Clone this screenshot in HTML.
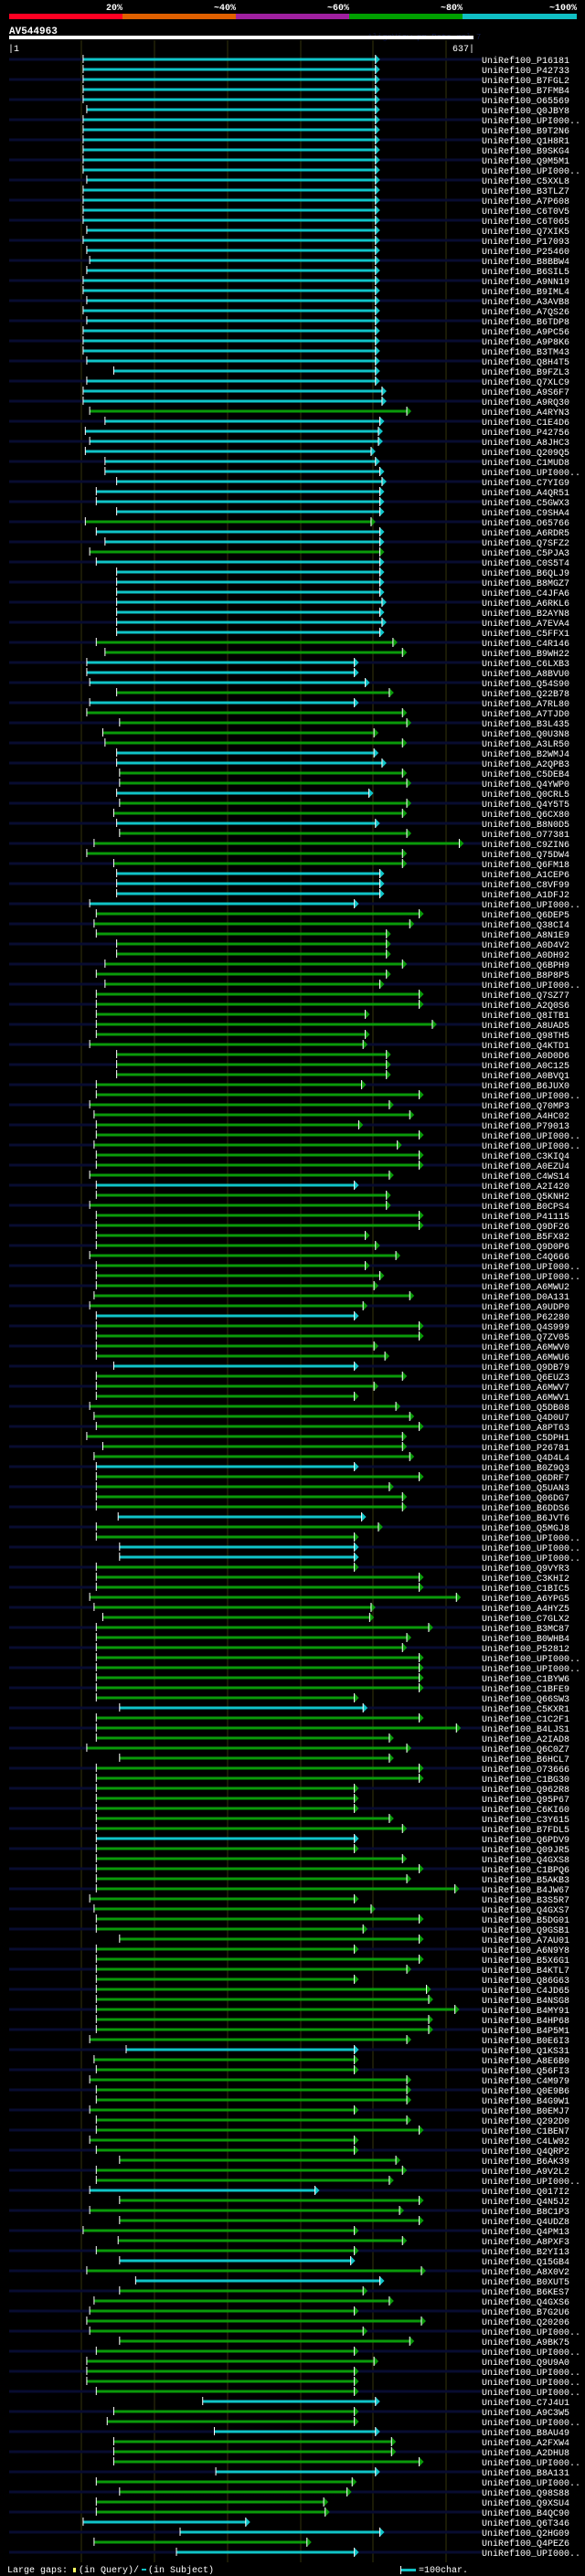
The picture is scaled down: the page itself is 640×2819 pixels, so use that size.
<!DOCTYPE html>
<html><head><meta charset="utf-8">
<style>
html,body{margin:0;padding:0;background:#000;}
svg{display:block;}
text{font-family:"Liberation Mono","DejaVu Sans Mono",monospace;}
</style></head>
<body>
<svg id="chart" width="640" height="2819" viewBox="0 0 640 2819" xmlns="http://www.w3.org/2000/svg">
<rect x="0" y="0" width="640" height="2819" fill="#000"/>
<g>
<rect x="10" y="15" width="124" height="6" fill="#ff0022"/>
<rect x="134" y="15" width="124" height="6" fill="#e06000"/>
<rect x="258" y="15" width="124" height="6" fill="#a020a0"/>
<rect x="382" y="15" width="124" height="6" fill="#00a000"/>
<rect x="506" y="15" width="125" height="6" fill="#10c0c4"/>
<text x="134" y="11" fill="#fff" font-size="10" font-weight="bold" text-anchor="end">20%</text>
<text x="258" y="11" fill="#fff" font-size="10" font-weight="bold" text-anchor="end">~40%</text>
<text x="382" y="11" fill="#fff" font-size="10" font-weight="bold" text-anchor="end">~60%</text>
<text x="506" y="11" fill="#fff" font-size="10" font-weight="bold" text-anchor="end">~80%</text>
<text x="631" y="11" fill="#fff" font-size="10" font-weight="bold" text-anchor="end">~100%</text>
</g>
<text x="10" y="37" fill="#fff" font-size="11" font-weight="bold">AV544963</text>
<text x="402" y="43" fill="#101a48" font-size="9">AlignView.pm Beta rel.7</text>
<rect x="10" y="39" width="508" height="4" fill="#fff"/>
<text x="9" y="56" fill="#fff" font-size="10">|1</text>
<text x="519" y="56" fill="#fff" font-size="10" text-anchor="end">637|</text>
<g id="grid"></g>
<g id="rows"></g>
<g>
<text x="8" y="2815" fill="#fff" font-size="10">Large gaps:</text>
<rect x="80" y="2810" width="3" height="5" fill="#ffff60"/>
<text x="86" y="2815" fill="#fff" font-size="10">(in Query)/</text>
<rect x="155" y="2811" width="5" height="2" fill="#10c0c4"/>
<text x="162" y="2815" fill="#fff" font-size="10">(in Subject)</text>
<rect x="438" y="2808" width="1" height="9" fill="#fff"/>
<rect x="439" y="2811" width="16" height="3" fill="#10c0c4"/>
<text x="458" y="2815" fill="#fff" font-size="10">=100char.</text>
</g>
</svg>
<script>
const names = ["P16181","P42733","B7FGL2","B7FMB4","O65569","Q0JBY8","UPI000..","B9T2N6","Q1H8R1","B9SKG4","Q9M5M1","UPI000..","C5XXL8","B3TLZ7","A7P608","C6T0V5","C6T065","Q7XIK5","P17093","P25460","B8BBW4","B6SIL5","A9NN19","B9IML4","A3AVB8","A7QS26","B6TDP8","A9PC56","A9P8K6","B3TM43",
"Q8H4T5","B9FZL3","Q7XLC9","A9S6F7","A9RQ30","A4RYN3","C1E4D6","P42756","A8JHC3","Q209Q5","C1MUD8","UPI000..","C7YIG9","A4QR51","C5GWX3","C9SHA4","O65766","A6RDR5","Q7SFZ2","C5PJA3","C0S5T4","B6QLJ9","B8MGZ7","C4JFA6","A6RKL6","B2AYN8","A7EVA4","C5FFX1","C4R146","B9WH22",
"C6LXB3","A8BVU0","Q54S90","Q22B78","A7RL80","A7TJD0","B3L435","Q0U3N8","A3LR50","B2WMJ4","A2QPB3","C5DEB4","Q4YWP0","Q0CRL5","Q4Y5T5","Q6CX80","B8N0D5","O77381","C9ZIN6","Q75DW4","Q6FM18","A1CEP6","C8VF99","A1DFJ2","UPI000..","Q6DEP5","Q38CI4","A8N1E9","A0D4V2","A0DH92",
"Q6BPH9","B8P8P5","UPI000..","Q7SZ77","A2Q0S6","Q8ITB1","A8UAD5","Q98TH5","Q4KTD1","A0D0D6","A0C125","A0BVQ1","B6JUX0","UPI000..","Q70MP3","A4HC02","P79013","UPI000..","UPI000..","C3KIQ4","A0EZU4","C4WS14","A2I420","Q5KNH2","B0CPS4","P41115","Q9DF26","B5FX82","Q9D0P6","C4Q666",
"UPI000..","UPI000..","A6MWU2","D0A131","A9UDP0","P62280","Q4S999","Q7ZV05","A6MWV0","A6MWU6","Q9DB79","Q6EUZ3","A6MWV7","A6MWV1","Q5DB08","Q4D0U7","A8PT63","C5DPH1","P26781","Q4D4L4","B0Z9Q3","Q6DRF7","Q5UAN3","Q06DG7","B6DDS6","B6JVT6","Q5MGJ8","UPI000..","UPI000..","UPI000..","Q9VYR3","C3KHI2",
"C1BIC5","A6YPG5","A4HYZ5","C7GLX2","B3MC87","B0WHB4","P52812","UPI000..","UPI000..","C1BYW6","C1BFE9","Q66SW3","C5KXR1","C1C2F1","B4LJS1","A2IAD8","Q6C0Z7","B6HCL7","O73666","C1BG30","Q962R8","Q95P67","C6KI60","C3Y615","B7FDL5","Q6PDV9","Q09JR5","Q4GXS8","C1BPQ6","B5AKB3","B4JW67","B3S5R7",
"Q4GXS7","B5DG01","Q9GSB1","A7AU01","A6N9Y8","B5X6G1","B4KTL7","Q86G63","C4JD65","B4NSG8","B4MY91","B4HP68","B4P5M1","B0E6I3","Q1KS31","A8E6B0","Q56FI3","C4M979","Q0E9B6","B4G9W1","B0EMJ7","Q292D0","C1BEN7","C4LW92","Q4QRP2","B6AK39","A9V2L2","UPI000..","Q017I2","Q4N5J2","B8C1P3","Q4UDZ8","Q4PM13",
"A8PXF3","B2YI13","Q15GB4","A8X0V2","B0XUT5","B6KES7","Q4GXS6","B7G2U6","Q20206","UPI000..","A9BK75","UPI000..","Q9U9A0","UPI000..","UPI000..","UPI000..","C7J4U1","A9C3W5","UPI000..","B8AU49","A2FXW4","A2DHU8","UPI000..","B8A131","UPI000..","Q98S88","Q9XSU4","B4QC90","Q6T346","Q2HG09","Q4PEZ6","UPI000.."];
const starts = [102,102,102,102,102,107,102,102,102,102,102,102,107,102,102,102,102,107,102,107,111,107,102,102,107,102,107,102,102,102,
107,144,107,102,102,111,132,105,111,105,132,132,148,120,120,148,105,120,132,111,120,148,148,148,148,148,148,148,120,132,
107,107,111,148,111,107,152,129,132,148,148,152,152,148,152,144,148,152,117,107,144,148,148,148,111,120,117,120,148,148,
132,120,132,120,120,120,120,120,111,148,148,148,120,120,111,117,120,120,117,120,120,111,120,120,111,120,120,120,120,111,
120,120,120,117,111,120,120,120,120,120,144,120,120,120,111,117,120,107,129,117,120,120,120,120,120,150,120,120,152,152,120,120,
120,111,117,129,120,120,120,120,120,120,120,120,152,120,120,120,107,152,120,120,120,120,120,120,120,120,120,120,120,120,120,111,
117,120,120,152,120,120,120,120,120,120,120,120,120,111,161,117,120,111,120,120,111,120,120,111,120,152,120,120,111,152,111,152,102,
150,120,152,107,174,152,117,111,107,111,152,120,107,107,107,120,266,144,135,282,144,144,144,284,120,152,120,120,102,235,117,230];
const ends = [503,503,503,503,503,503,503,503,503,503,503,503,503,503,503,503,503,503,503,503,503,503,503,503,503,503,503,503,503,503,
503,503,503,512,512,546,509,507,507,497,503,509,512,509,509,509,497,509,509,509,509,509,509,509,512,509,512,509,527,540,
474,474,489,522,474,540,546,501,540,501,512,540,546,494,546,540,503,546,618,540,540,509,509,509,474,563,550,518,518,518,
540,518,509,563,563,489,581,489,486,518,518,518,484,563,522,550,480,563,533,563,563,522,474,518,518,563,563,489,503,531,
489,509,501,550,486,474,563,563,501,516,474,540,501,474,531,550,563,540,540,550,474,563,522,540,540,484,507,474,474,474,474,563,
563,614,497,495,576,546,540,563,563,563,563,474,486,563,614,522,546,522,563,563,474,474,474,522,540,474,474,540,563,546,612,474,
497,563,486,563,474,563,546,474,573,576,612,576,576,546,474,474,474,546,546,546,474,546,563,474,474,531,540,522,420,563,536,563,474,
540,474,469,566,509,486,522,474,566,486,550,474,501,474,474,474,503,474,474,503,525,525,563,503,471,464,432,434,325,509,409,474];
const cyanRows = [0,1,2,3,4,5,6,7,8,9,10,11,12,13,14,15,16,17,18,19,20,21,22,23,24,25,26,27,28,29,
30,31,32,33,34,36,37,38,39,40,41,42,43,44,45,47,48,50,51,52,53,54,55,56,57,
60,61,62,64,69,70,73,76,81,82,83,84,112,125,130,140,145,148,149,164,177,198,212,219,221,233,236,240,245,246,248];
const queryLength = [1,637];
const gridTicks = [100,200,300,400,500,600];

const NS = "http://www.w3.org/2000/svg";
const X0 = 10, X1 = 518;
function xScale(c){ return X0 + (c - queryLength[0] + 0.5) * (X1 - X0) / queryLength[1]; }
function yRow(i){ return 65 + i * 11; }
function mk(tag, attrs, parent){
  const e = document.createElementNS(NS, tag);
  for (const k in attrs) e.setAttribute(k, attrs[k]);
  parent.appendChild(e);
  return e;
}
const grid = document.getElementById('grid');
gridTicks.forEach(t => {
  const l = mk('rect', {x: Math.round(xScale(t)) - 0.5, y: 44, width: 1, height: 2760, fill: '#34340c'}, grid);
  
  
});
const rowsG = document.getElementById('rows');
names.forEach((nm, i) => {
  const y = yRow(i);
  const g = mk('g', {}, rowsG);
  
  
  if (i % 2 === 0) {
    const bg = mk('rect', {x: 10, y: y - 1.5, width: 517, height: 3, fill: '#080c30'}, g);
    
    
  }
  const col = cyanRows.indexOf(i) >= 0 ? '#10c4c8' : '#0a9a0a';
  const xs = xScale(starts[i]), xe = xScale(ends[i]);
  const bar = mk('rect', {x: xs, y: y - 1.5, width: xe - xs, height: 3, fill: col}, g);
  
  
  const tick = mk('rect', {x: xs - 0.5, y: y - 5, width: 1, height: 9, fill: '#fff'}, g);
  
  
  const ar = mk('polygon', {points: `${xe},${y-5} ${xe+5},${y} ${xe},${y+5}`, fill: col}, g);
  
  
  const ab = mk('rect', {x: xe - 0.5, y: y - 5, width: 1, height: 10, fill: '#fff'}, g);
  
  
  const t = mk('text', {x: 527, y: y + 4, fill: '#fff', 'font-size': 10}, g);
  t.textContent = 'UniRef100_' + nm;
  
  
});
</script>
</body></html>
